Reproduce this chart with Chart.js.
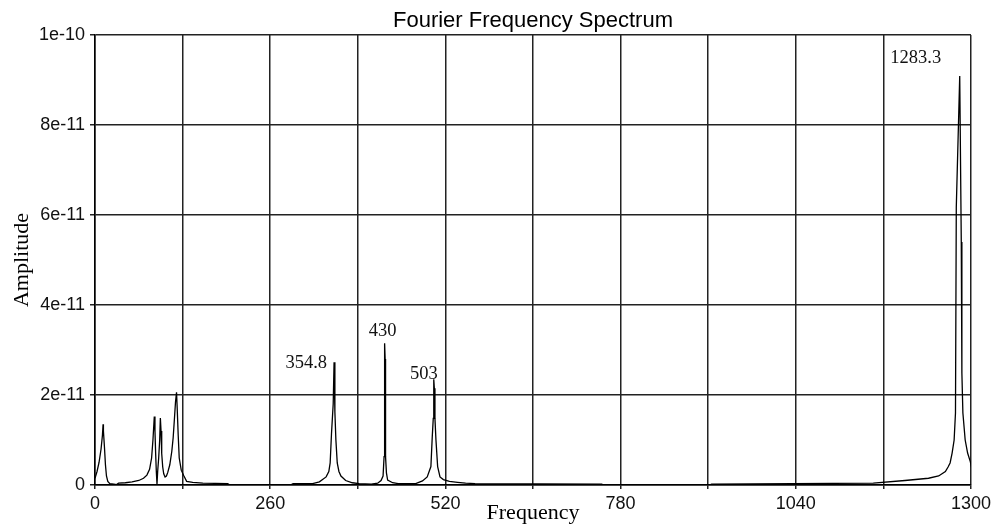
<!DOCTYPE html>
<html>
<head>
<meta charset="utf-8">
<title>Fourier Frequency Spectrum</title>
<script src="https://cdn.jsdelivr.net/npm/chart.js@4"></script>
<style>
  html, body { margin: 0; padding: 0; background: #fff; }
  canvas { display: block; }
</style>
</head>
<body>
<canvas id="spectrumChart" width="995" height="527"></canvas>
<script>
// amplitudes are stored in units of 1e-11
const AMP_UNIT = 1e-11;

const frequency = [
  0, 3, 6, 9, 11, 12, 12.5, 14, 15.5, 17, 19, 22, 28, 32, 35, 45, 55, 65, 72, 77,
  81, 84, 86, 88, 89, 90, 91, 92, 93, 94.5, 96, 97, 98, 99, 100.5, 102, 104, 106, 108, 111,
  114, 116, 118, 119.5, 121, 122, 123.5, 125, 128, 132, 136, 145, 160, 197, 200, 290, 294, 323, 333, 343,
  347, 349, 351, 353.5, 354.8, 356, 357.5, 359.5, 362, 365, 372, 382, 392, 410, 419.5, 424.5, 427.5, 429, 429.6, 430,
  430.6, 431.2, 432.5, 434.3, 441.7, 450, 476, 486, 493, 498.5, 500.5, 502, 502.5, 503, 503.6, 504.5, 506, 508.5, 512, 517,
  526, 538, 550, 564, 752, 755, 912, 915, 1155, 1202, 1237, 1252, 1262, 1266, 1269, 1272, 1275, 1277, 1278.2, 1283.3,
  1285.6, 1286.5, 1288, 1291.4, 1295, 1299, 1300
];

const amplitude = [
  0.15, 0.3, 0.5, 0.8, 1.1, 1.35, 1.2, 0.85, 0.45, 0.2, 0.08, 0.03, 0.02, 0.01, 0.04, 0.05, 0.07, 0.1, 0.15, 0.22,
  0.35, 0.6, 1.0, 1.52, 1.2, 0.7, 0.3, 0.02, 0.3, 0.6, 1.0, 1.49, 1.2, 0.7, 0.4, 0.25, 0.18, 0.2, 0.28, 0.45,
  0.75, 1.05, 1.5, 1.85, 2.06, 1.7, 1.1, 0.6, 0.33, 0.2, 0.08, 0.06, 0.04, 0.03, 0, 0, 0.03, 0.03, 0.07, 0.18,
  0.3, 0.49, 1.15, 1.8, 2.73, 1.63, 1.0, 0.49, 0.3, 0.2, 0.1, 0.05, 0.03, 0.02, 0.04, 0.1, 0.2, 0.63, 2.8, 3.15,
  2.8, 0.63, 0.27, 0.11, 0.05, 0.03, 0.03, 0.09, 0.18, 0.41, 1.07, 1.48, 2.15, 2.35, 2.15, 1.48, 1.0, 0.41, 0.18, 0.12,
  0.08, 0.06, 0.04, 0.03, 0.02, 0, 0, 0.02, 0.04, 0.1, 0.15, 0.2, 0.3, 0.4, 0.49, 0.71, 1.0, 1.6, 6.18, 9.09,
  5.4, 2.49, 1.6, 1.0, 0.71, 0.52, 0.45
];

// annotated peaks (frequency text printed next to each)
const peakFreqs = [354.8, 430, 503, 1283.3];
const peakAmps = [2.73, 3.15, 2.35, 9.09];

const xTicks = [0, 130, 260, 390, 520, 650, 780, 910, 1040, 1170, 1300];
const xTickLabels = ['0', '', '260', '', '520', '', '780', '', '1040', '', '1300'];
const yTicks = [0, 2e-11, 4e-11, 6e-11, 8e-11, 1e-10];
const yTickLabels = ['0', '2e-11', '4e-11', '6e-11', '8e-11', '1e-10'];

const points = frequency.map((f, i) => ({ x: f, y: amplitude[i] * AMP_UNIT }));

// label placement relative to the peak top: [dx, dy, align]
const peakLabelOffsets = [
  [-7, 1, 'right'],
  [-2, -12, 'center'],
  [-10, -5, 'center'],
  [-44, -18, 'center']
];

const overlayPlugin = {
  id: 'overlay',
  afterDraw(chart) {
    const { ctx, chartArea, scales } = chart;
    ctx.save();
    // chart title centred over the plot
    ctx.fillStyle = '#000';
    ctx.font = "22px 'Liberation Sans', Arial, sans-serif";
    ctx.textAlign = 'center';
    ctx.textBaseline = 'middle';
    ctx.fillText('Fourier Frequency Spectrum', (chartArea.left + chartArea.right) / 2, 21);

    // peak frequency annotations
    ctx.font = "18.5px 'Liberation Serif', 'Times New Roman', serif";
    ctx.fillStyle = '#111';
    peakFreqs.forEach((f, i) => {
      const px = scales.x.getPixelForValue(f);
      const py = scales.y.getPixelForValue(peakAmps[i] * AMP_UNIT);
      const [dx, dy, align] = peakLabelOffsets[i];
      ctx.textAlign = align;
      ctx.fillText(String(f), px + dx, py + dy);
    });
    ctx.restore();
  }
};

const ctx = document.getElementById('spectrumChart').getContext('2d');
const spectrumChart = new Chart(ctx, {
  type: 'line',
  data: {
    datasets: [{
      label: 'Amplitude',
      data: points,
      borderColor: '#000',
      borderWidth: 1.3,
      pointRadius: 0,
      tension: 0,
      fill: false
    }]
  },
  options: {
    responsive: false,
    animation: false,
    layout: { padding: { top: 35, right: 22, bottom: 0, left: 0 } },
    plugins: {
      legend: { display: false },
      tooltip: { enabled: false }
    },
    scales: {
      x: {
        type: 'linear',
        min: 0,
        max: 1300,
        afterBuildTicks: (scale) => { scale.ticks = xTicks.map(v => ({ value: v })); },
        afterFit: (scale) => { scale.height = 42; },
        ticks: {
          autoSkip: false,
          maxRotation: 0,
          padding: 4,
          color: '#111',
          font: { family: "'Liberation Sans', Arial, sans-serif", size: 18 },
          callback: (value, index) => xTickLabels[index]
        },
        grid: { color: '#222', lineWidth: 1.5, tickLength: 4 },
        border: { color: '#000', width: 1.5 },
        title: {
          display: true,
          text: 'Frequency',
          color: '#000',
          font: { family: "'Liberation Serif', 'Times New Roman', serif", size: 22, lineHeight: 1.2 },
          padding: { top: 0, bottom: 1 }
        }
      },
      y: {
        type: 'linear',
        min: 0,
        max: 1e-10,
        afterBuildTicks: (scale) => { scale.ticks = yTicks.map(v => ({ value: v })); },
        afterFit: (scale) => { scale.width = 95; },
        ticks: {
          padding: 5,
          color: '#111',
          font: { family: "'Liberation Sans', Arial, sans-serif", size: 18 },
          callback: (value, index) => yTickLabels[index]
        },
        grid: { color: '#222', lineWidth: 1.5, tickLength: 5 },
        border: { color: '#000', width: 1.5 },
        title: {
          display: true,
          text: 'Amplitude',
          color: '#000',
          font: { family: "'Liberation Serif', 'Times New Roman', serif", size: 22, lineHeight: 1.2 },
          padding: { top: 9, bottom: 0 }
        }
      }
    }
  },
  plugins: [overlayPlugin]
});
</script>
</body>
</html>
